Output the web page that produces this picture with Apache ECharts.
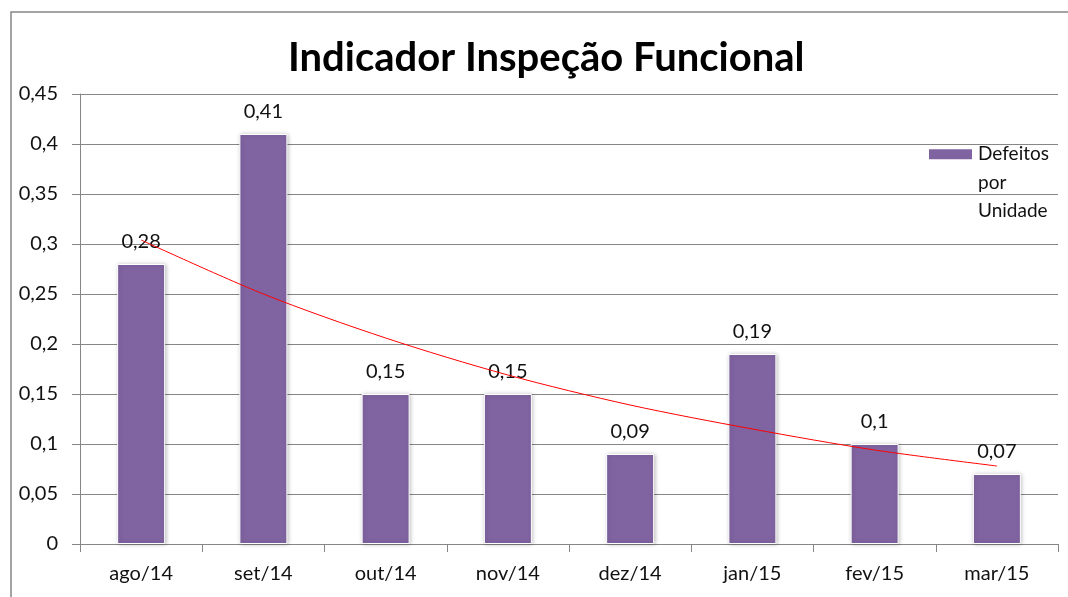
<!DOCTYPE html>
<html>
<head>
<meta charset="utf-8">
<script src="https://cdn.jsdelivr.net/npm/echarts@6/dist/echarts.min.js"></script>
<style>
html, body { margin: 0; padding: 0; background: #fff; }
#grafico { width: 1068px; height: 597px; }
</style>
</head>
<body>
<div id="grafico"></div>
<script>
// meses do eixo x
var meses = ['ago/14', 'set/14', 'out/14', 'nov/14', 'dez/14', 'jan/15', 'fev/15', 'mar/15'];
// defeitos por unidade
var defeitos = [0.28, 0.41, 0.15, 0.15, 0.09, 0.19, 0.10, 0.07];
// linha de tendencia
var tendencia = [0.304, 0.250, 0.206, 0.169, 0.139, 0.115, 0.094, 0.078];

function virgula(v) {
    return String(v).replace('.', ',');
}

var fonte = 'Lato, "Open Sans", sans-serif';
var cinza = '#868686';
var texto = '#111';

var dom = document.getElementById('grafico');
var myChart = echarts.init(dom);
var option = {
    animation: false,
    textStyle: { fontFamily: fonte },
    title: {
        text: 'Indicador Inspeção Funcional',
        left: 283,
        top: 33,
        textStyle: { fontSize: 40, fontWeight: 'bold', color: '#000', fontFamily: fonte }
    },
    graphic: [{
        type: 'rect',
        shape: { x: 11, y: 12, width: 1080, height: 620 },
        style: { fill: 'none', stroke: '#878787', lineWidth: 1.5 },
        silent: true
    }],
    legend: {
        left: 922,
        top: 78,
        itemWidth: 45,
        itemHeight: 12,
        data: [{ name: 'Defeitos por Unidade', icon: 'rect' }],
        // duas linhas vazias antes para o icone ficar na primeira linha
        formatter: function () { return '\n\nDefeitos\npor\nUnidade'; },
        textStyle: { fontSize: 19, color: texto, lineHeight: 28.5, fontFamily: fonte }
    },
    grid: { left: 80, right: 10, top: 94, bottom: 53, containLabel: false },
    xAxis: {
        type: 'category',
        data: meses,
        axisLine: { lineStyle: { color: cinza, width: 1 } },
        axisTick: { show: true, length: 8, lineStyle: { color: cinza } },
        axisLabel: { fontSize: 20, color: texto, margin: 20, fontFamily: fonte }
    },
    yAxis: {
        type: 'value',
        min: 0,
        max: 0.45,
        interval: 0.05,
        axisLine: { show: true, lineStyle: { color: cinza, width: 1 } },
        axisTick: { show: true, length: 8, lineStyle: { color: cinza } },
        splitLine: { lineStyle: { color: cinza, width: 1 } },
        axisLabel: {
            fontSize: 20, color: texto, margin: 22, fontFamily: fonte,
            formatter: function (v) { return virgula(Math.round(v * 100) / 100); }
        }
    },
    series: [
        {
            name: 'Defeitos por Unidade',
            type: 'bar',
            data: defeitos,
            barWidth: 48,
            itemStyle: {
                color: '#8064A2',
                borderColor: '#ffffff',
                borderWidth: 1,
                shadowColor: 'rgba(0,0,0,0.25)',
                shadowBlur: 4,
                shadowOffsetX: 1
            },
            label: {
                show: true,
                position: 'top',
                distance: 12,
                fontSize: 20,
                color: texto,
                fontFamily: fonte,
                formatter: function (p) { return virgula(p.value); }
            }
        },
        {
            name: 'Tendência',
            type: 'line',
            data: tendencia,
            smooth: 0.3,
            symbol: 'none',
            lineStyle: { color: '#ff0000', width: 1 },
            z: 5
        }
    ]
};
if (option && typeof option === "object") {
    myChart.setOption(option, true);
}
</script>
</body>
</html>
